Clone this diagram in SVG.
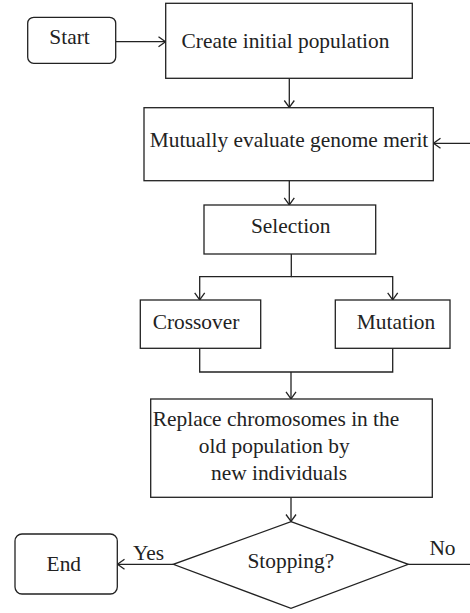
<svg xmlns="http://www.w3.org/2000/svg" width="470" height="613" viewBox="0 0 470 613">
<style>
.box{fill:#fff;stroke:#222;stroke-width:1.3}
.ln{fill:none;stroke:#222;stroke-width:1.3}
</style>
<defs>
<marker id="ah" markerWidth="12" markerHeight="12" refX="10" refY="6" orient="auto" markerUnits="userSpaceOnUse">
<polyline points="3,1 10,6 3,11" fill="none" stroke="#222" stroke-width="1.3"/>
</marker>
</defs>
<g id="connectors">
<line class="ln" x1="116" y1="41.7" x2="165.5" y2="41.7" marker-end="url(#ah)"/>
<line class="ln" x1="289.3" y1="78.3" x2="289.3" y2="107.5" marker-end="url(#ah)"/>
<line class="ln" x1="470" y1="143.3" x2="433.5" y2="143.3" marker-end="url(#ah)"/>
<line class="ln" x1="289.3" y1="180.7" x2="289.3" y2="204.8" marker-end="url(#ah)"/>
<polyline class="ln" points="291.3,254 291.3,276.7 199.7,276.7 199.7,299.8" marker-end="url(#ah)"/>
<polyline class="ln" points="291.3,276.7 392.7,276.7 392.7,299.8" marker-end="url(#ah)"/>
<polyline class="ln" points="199.7,348.3 199.7,372 392.7,372 392.7,348.3"/>
<line class="ln" x1="291" y1="372" x2="291" y2="398.8" marker-end="url(#ah)"/>
<line class="ln" x1="291" y1="497.3" x2="291" y2="521.5" marker-end="url(#ah)"/>
<line class="ln" x1="173.3" y1="564.3" x2="117.5" y2="564.3" marker-end="url(#ah)"/>
<line class="ln" x1="408.3" y1="564.3" x2="470" y2="564.3"/>
<text font-family="Liberation Serif" font-size="21.4" fill="#222" text-anchor="middle" x="148.5" y="560">Yes</text>
<text font-family="Liberation Serif" font-size="21.4" fill="#222" text-anchor="middle" x="442.5" y="555">No</text>
</g>
<g id="start">
<rect class="box" x="27.7" y="17.3" width="88" height="46" rx="6"/>
<text font-family="Liberation Serif" font-size="21.4" fill="#222" text-anchor="middle" x="69.5" y="44">Start</text>
</g>
<g id="create">
<rect class="box" x="165.7" y="3.3" width="246.6" height="75"/>
<text font-family="Liberation Serif" font-size="21.4" fill="#222" text-anchor="middle" x="285.5" y="48">Create initial population</text>
</g>
<g id="evaluate">
<rect class="box" x="144" y="107.7" width="289.3" height="73"/>
<text font-family="Liberation Serif" font-size="21.4" fill="#222" text-anchor="middle" x="289" y="146.7">Mutually evaluate genome merit</text>
</g>
<g id="selection">
<rect class="box" x="204" y="205" width="171.7" height="49"/>
<text font-family="Liberation Serif" font-size="21.4" fill="#222" text-anchor="middle" x="290.7" y="233.3">Selection</text>
</g>
<g id="crossover">
<rect class="box" x="140.3" y="300" width="120.4" height="48.3"/>
<text font-family="Liberation Serif" font-size="21.4" fill="#222" text-anchor="middle" x="196" y="329.3">Crossover</text>
</g>
<g id="mutation">
<rect class="box" x="335.3" y="300" width="114.7" height="48.3"/>
<text font-family="Liberation Serif" font-size="21.4" fill="#222" text-anchor="middle" x="396" y="329.3">Mutation</text>
</g>
<g id="replace">
<rect class="box" x="150.7" y="399" width="281.6" height="98.3"/>
<text font-family="Liberation Serif" font-size="21.4" fill="#222" text-anchor="middle" x="276" y="426">Replace chromosomes in the</text>
<text font-family="Liberation Serif" font-size="21.4" fill="#222" text-anchor="middle" x="274.3" y="453.3">old population by</text>
<text font-family="Liberation Serif" font-size="21.4" fill="#222" text-anchor="middle" x="279" y="480">new individuals</text>
</g>
<g id="stopping">
<polygon class="box" points="291,521.7 408.3,564.3 291,608.3 173.3,564.3"/>
<text font-family="Liberation Serif" font-size="21.4" fill="#222" text-anchor="middle" x="290.8" y="568.3">Stopping?</text>
</g>
<g id="end">
<rect class="box" x="15" y="534" width="102.3" height="60" rx="7"/>
<text font-family="Liberation Serif" font-size="21.4" fill="#222" text-anchor="middle" x="63.8" y="570.7">End</text>
</g>
</svg>
